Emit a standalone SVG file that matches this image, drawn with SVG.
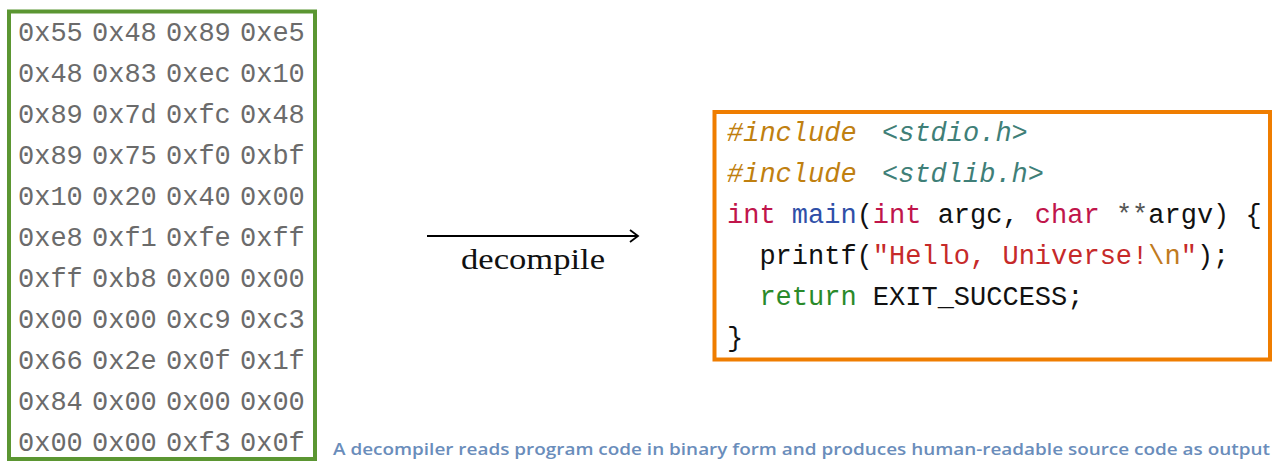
<svg xmlns="http://www.w3.org/2000/svg" width="1272" height="461" viewBox="0 0 1272 461">
<style>
.hex{font-family:"Liberation Mono",monospace;font-size:27px;fill:#6b6b6b}
.code{font-family:"Liberation Mono",monospace;font-size:27px;fill:#111}
.it{font-style:italic}
.kw{fill:#c0154b}
.fn{fill:#2f4fa8}
.str{fill:#c62a2a}
.esc{fill:#c07a20}
.ret{fill:#2a8a2a}
.pp{fill:#c08010}
.inc{fill:#3f7f78}
.op{fill:#555}
</style>
<defs>
<marker id="arr" viewBox="0 0 12 14" refX="10" refY="7" markerWidth="12" markerHeight="14" markerUnits="userSpaceOnUse" orient="auto">
<path d="M2,1 L10,7 L2,13" fill="none" stroke="#000" stroke-width="1.8"/>
</marker>
</defs>
<g id="binary">
<rect x="9" y="11.5" width="306" height="447.5" fill="#fff" stroke="#5b9632" stroke-width="4"/>
<g class="hex">
<text y="40.5"><tspan x="18">0x55</tspan><tspan x="92">0x48</tspan><tspan x="166">0x89</tspan><tspan x="240">0xe5</tspan></text>
<text y="81.5"><tspan x="18">0x48</tspan><tspan x="92">0x83</tspan><tspan x="166">0xec</tspan><tspan x="240">0x10</tspan></text>
<text y="122.5"><tspan x="18">0x89</tspan><tspan x="92">0x7d</tspan><tspan x="166">0xfc</tspan><tspan x="240">0x48</tspan></text>
<text y="163.5"><tspan x="18">0x89</tspan><tspan x="92">0x75</tspan><tspan x="166">0xf0</tspan><tspan x="240">0xbf</tspan></text>
<text y="204.5"><tspan x="18">0x10</tspan><tspan x="92">0x20</tspan><tspan x="166">0x40</tspan><tspan x="240">0x00</tspan></text>
<text y="245.5"><tspan x="18">0xe8</tspan><tspan x="92">0xf1</tspan><tspan x="166">0xfe</tspan><tspan x="240">0xff</tspan></text>
<text y="286.5"><tspan x="18">0xff</tspan><tspan x="92">0xb8</tspan><tspan x="166">0x00</tspan><tspan x="240">0x00</tspan></text>
<text y="327.5"><tspan x="18">0x00</tspan><tspan x="92">0x00</tspan><tspan x="166">0xc9</tspan><tspan x="240">0xc3</tspan></text>
<text y="368.5"><tspan x="18">0x66</tspan><tspan x="92">0x2e</tspan><tspan x="166">0x0f</tspan><tspan x="240">0x1f</tspan></text>
<text y="409.5"><tspan x="18">0x84</tspan><tspan x="92">0x00</tspan><tspan x="166">0x00</tspan><tspan x="240">0x00</tspan></text>
<text y="450.5"><tspan x="18">0x00</tspan><tspan x="92">0x00</tspan><tspan x="166">0xf3</tspan><tspan x="240">0x0f</tspan></text>
</g>
</g>
<g id="connectors">
<line x1="427" y1="236" x2="638" y2="236" stroke="#000" stroke-width="1.8" marker-end="url(#arr)"/>
<text x="533" y="269" text-anchor="middle" font-family="Liberation Serif, serif" font-size="30" fill="#111" textLength="144" lengthAdjust="spacingAndGlyphs">decompile</text>
</g>
<g id="source">
<rect x="714.5" y="112" width="555.5" height="247.5" fill="#fff" stroke="#ef7d00" stroke-width="4"/>
<g class="code">
<text y="141"><tspan x="727" class="it pp">#include</tspan><tspan x="882" class="it inc">&lt;stdio.h&gt;</tspan></text>
<text y="182"><tspan x="727" class="it pp">#include</tspan><tspan x="882" class="it inc">&lt;stdlib.h&gt;</tspan></text>
<text x="727" y="223" xml:space="preserve"><tspan class="kw">int</tspan> <tspan class="fn">main</tspan>(<tspan class="kw">int</tspan> argc, <tspan class="kw">char</tspan> <tspan class="op">**</tspan>argv) {</text>
<text x="727" y="264" xml:space="preserve">  printf(<tspan class="str">"Hello, Universe!</tspan><tspan class="esc">\n</tspan><tspan class="str">"</tspan>);</text>
<text x="727" y="305" xml:space="preserve">  <tspan class="ret">return</tspan> EXIT_SUCCESS;</text>
<text x="727" y="346">}</text>
</g>
</g>
<text x="333" y="455" font-family="Open Sans, sans-serif" font-size="17" font-weight="600" fill="#6a8dbb" textLength="937" lengthAdjust="spacingAndGlyphs">A decompiler reads program code in binary form and produces human-readable source code as output</text>
</svg>
